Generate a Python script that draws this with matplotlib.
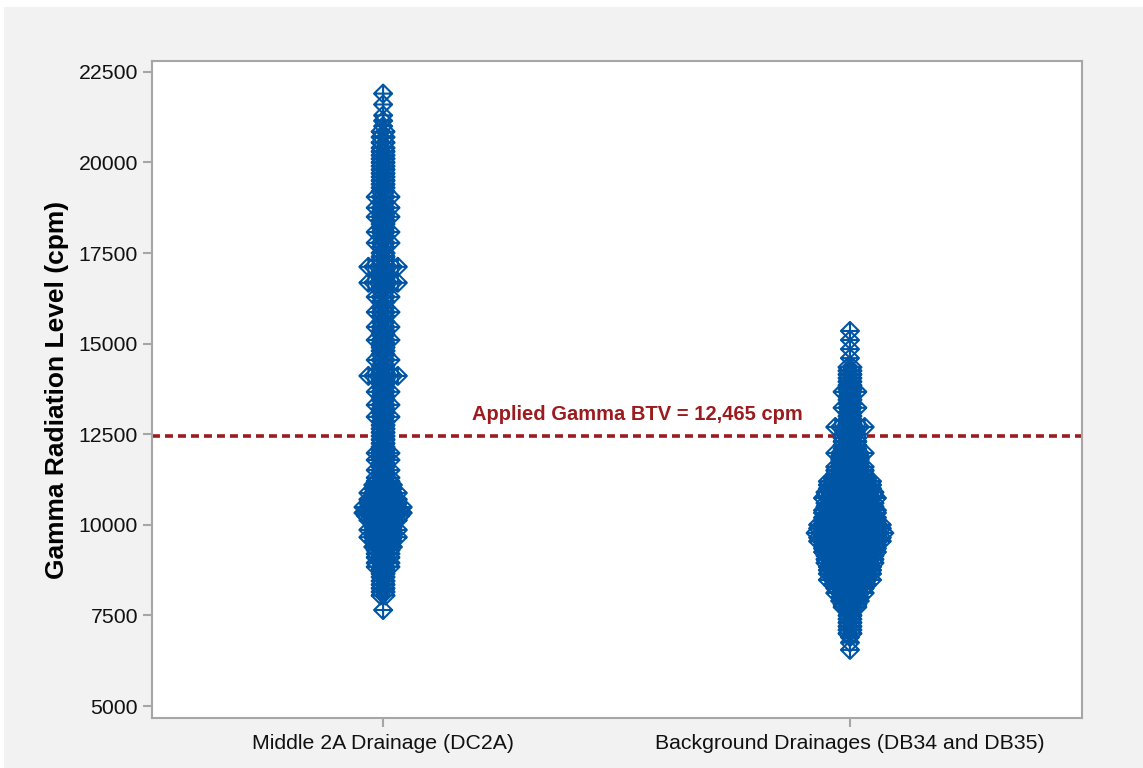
import numpy as np
import matplotlib.pyplot as plt
from matplotlib.path import Path
from matplotlib.patches import Rectangle

plt.rcParams['font.family'] = ['Liberation Sans', 'DejaVu Sans']

# Gamma readings (cpm) and how many readings share each value
dc2a_cpm = [21900, 21600, 21300, 21150, 21000, 20850, 20700, 20550, 20400, 20300,
            20200, 20100, 20000, 19900, 19800, 19700, 19600, 19500, 19400, 19300,
            19200, 19050, 18900, 18750, 18600, 18500, 18400, 18300, 18200, 18080,
            17950, 17780, 17650, 17500, 17400, 17300, 17120, 17000, 16900, 16800,
            16680, 16550, 16450, 16290, 16150, 16000, 15870, 15750, 15600, 15460,
            15350, 15250, 15100, 15000, 14900, 14800, 14700, 14550, 14400, 14300,
            14200, 14110, 14000, 13900, 13800, 13670, 13550, 13450, 13310, 13200,
            13100, 12980, 12850, 12750, 12650, 12550, 12450, 12350, 12250, 12150,
            12050, 11980, 11900, 11790, 11700, 11600, 11510, 11400, 11300, 11200,
            11100, 11000, 10880, 10800, 10700, 10600, 10490, 10400, 10330, 10250,
            10130, 10050, 9950, 9860, 9760, 9660, 9550, 9450, 9390, 9300,
            9200, 9100, 9000, 8950, 8840, 8750, 8650, 8560, 8450, 8350,
            8250, 8150, 8050, 7650]
dc2a_count = [1, 1, 1, 1, 1, 2, 2, 2, 2, 2,
              2, 2, 2, 2, 2, 2, 2, 2, 2, 2,
              2, 4, 2, 4, 2, 4, 2, 2, 2, 4,
              2, 4, 2, 2, 2, 2, 7, 2, 2, 2,
              7, 2, 2, 4, 2, 2, 4, 2, 2, 4,
              2, 2, 4, 2, 2, 2, 2, 4, 2, 2,
              2, 7, 2, 2, 2, 4, 2, 2, 4, 2,
              2, 4, 2, 2, 2, 2, 2, 2, 2, 2,
              2, 4, 2, 4, 2, 2, 4, 2, 4, 4,
              5, 5, 7, 5, 7, 7, 9, 8, 9, 8,
              7, 5, 5, 7, 5, 7, 5, 4, 5, 4,
              4, 4, 2, 4, 4, 2, 2, 2, 2, 2,
              2, 2, 2, 1]

bg_cpm = [15350, 15100, 14850, 14600, 14350, 14250, 14150, 14050, 13950, 13850,
          13750, 13670, 13550, 13450, 13350, 13230, 13100, 13000, 12900, 12800,
          12700, 12600, 12500, 12400, 12300, 12200, 12100, 11980, 11900, 11800,
          11700, 11600, 11500, 11400, 11300, 11200, 11100, 11000, 10900, 10800,
          10740, 10600, 10500, 10400, 10330, 10200, 10100, 10000, 9900, 9775,
          9650, 9550, 9450, 9350, 9250, 9150, 9050, 8950, 8840, 8750,
          8650, 8550, 8480, 8350, 8250, 8120, 8000, 7900, 7800, 7730,
          7600, 7500, 7400, 7300, 7200, 7100, 7000, 6900, 6750, 6550]
bg_count = [1, 1, 1, 1, 2, 2, 2, 2, 2, 2,
            2, 4, 2, 2, 2, 4, 2, 2, 2, 2,
            7, 3, 3, 4, 4, 4, 4, 7, 5, 5,
            5, 7, 7, 7, 8, 10, 10, 10, 11, 11,
            12, 11, 11, 12, 12, 12, 12, 14, 14, 15,
            14, 14, 12, 12, 12, 11, 11, 11, 10, 10,
            10, 8, 10, 8, 7, 7, 5, 5, 4, 4,
            2, 2, 2, 2, 2, 2, 2, 1, 1, 1]

groups = ['Middle 2A Drainage (DC2A)', 'Background Drainages (DB34 and DB35)']
btv = 12465

blue = '#0055a5'
red = '#9b1b1e'

# diamond with a cross inside
diamond_plus = Path(
    [(0, 1), (1, 0), (0, -1), (-1, 0), (0, 1), (-1, 0), (1, 0), (0, -1), (0, 1)],
    [Path.MOVETO, Path.LINETO, Path.LINETO, Path.LINETO, Path.CLOSEPOLY,
     Path.MOVETO, Path.LINETO, Path.MOVETO, Path.LINETO])


def stack(center, values, counts, step=0.0105):
    # readings with the same value sit side by side around the category
    xs, ys = [], []
    for v, n in zip(values, counts):
        offs = (np.arange(n) - (n - 1) / 2) * step
        xs.extend(center + offs)
        ys.extend([v] * n)
    return np.array(xs), np.array(ys)


fig = plt.figure(figsize=(11.43, 7.68), dpi=100)
fig.patch.set_facecolor('white')
fig.add_artist(Rectangle((4 / 1143, 0), 1, 1 - 7 / 768, transform=fig.transFigure,
                         facecolor='#f2f2f2', edgecolor='none', zorder=-10))

ax = fig.add_axes([152 / 1143, 1 - 718 / 768, 930 / 1143, 657 / 768])
ax.set_facecolor('white')

ax.axhline(btv, color=red, lw=2.6, dashes=(2.2, 1.4), zorder=1)
ax.annotate('Applied Gamma BTV = 12,465 cpm', xy=(1.544, btv), xytext=(0, 8),
            textcoords='offset points', ha='center', va='bottom',
            color=red, fontsize=14.5, fontweight='bold')

for i, (vals, cnts) in enumerate([(dc2a_cpm, dc2a_count), (bg_cpm, bg_count)]):
    x, y = stack(i + 1, vals, cnts)
    ax.scatter(x, y, s=13 ** 2, marker=diamond_plus, facecolors='none',
               edgecolors=blue, linewidths=1.5, zorder=3)

ax.set_xlim(0.505, 2.497)
ax.set_ylim(4670, 22800)
ax.set_xticks([1, 2])
ax.set_xticklabels(groups)
ax.set_yticks(np.arange(5000, 22501, 2500))

for s in ax.spines.values():
    s.set_color('#a6a6a6')
    s.set_linewidth(1.5)
ax.tick_params(axis='both', colors='#a6a6a6', length=6.5, width=1.5,
               labelsize=15.3, labelcolor='#111111')
ax.tick_params(axis='y', pad=3.5)
ax.tick_params(axis='x', pad=5)

ax.set_ylabel('Gamma Radiation Level (cpm)', fontsize=19, fontweight='bold',
              va='center')
ax.yaxis.set_label_coords(-0.102, 0.5)

fig.savefig('out.png', dpi=100)
